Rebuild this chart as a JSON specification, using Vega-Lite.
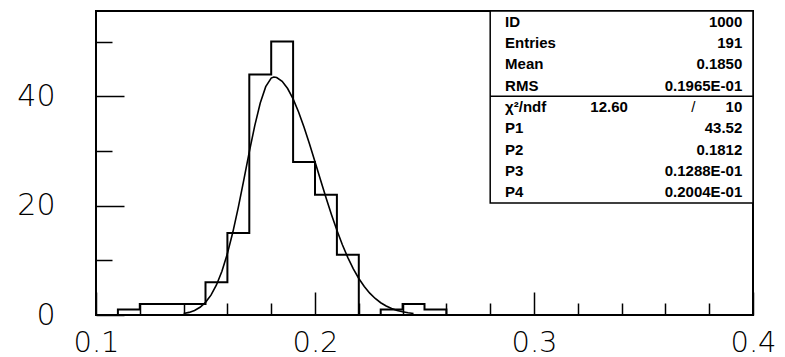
{
  "$schema": "https://vega.github.io/schema/vega-lite/v6.json",
  "width": 657,
  "height": 304,
  "autosize": "none",
  "padding": {"left": 96, "top": 11, "right": 32, "bottom": 42},
  "background": "white",
  "config": {"view": {"stroke": "black", "strokeWidth": 2}, "font": "DejaVu Sans"},
  "datasets": {
    "hist": [
      {"edge": 0.10, "count": 0}, {"edge": 0.11, "count": 1}, {"edge": 0.12, "count": 2},
      {"edge": 0.13, "count": 2}, {"edge": 0.14, "count": 2}, {"edge": 0.15, "count": 6},
      {"edge": 0.16, "count": 15}, {"edge": 0.17, "count": 44}, {"edge": 0.18, "count": 50},
      {"edge": 0.19, "count": 28}, {"edge": 0.20, "count": 22}, {"edge": 0.21, "count": 11},
      {"edge": 0.22, "count": 0}, {"edge": 0.23, "count": 1}, {"edge": 0.24, "count": 2},
      {"edge": 0.25, "count": 1}, {"edge": 0.26, "count": 0}
    ],
    "fit": [
      {"x": 0.1400, "f": 0.261}, {"x": 0.1425, "f": 0.477}, {"x": 0.1450, "f": 0.838},
      {"x": 0.1475, "f": 1.419}, {"x": 0.1500, "f": 2.315}, {"x": 0.1525, "f": 3.635},
      {"x": 0.1550, "f": 5.497}, {"x": 0.1575, "f": 8.006}, {"x": 0.1600, "f": 11.230},
      {"x": 0.1625, "f": 15.170}, {"x": 0.1650, "f": 19.731}, {"x": 0.1675, "f": 24.717},
      {"x": 0.1700, "f": 29.819}, {"x": 0.1725, "f": 34.643}, {"x": 0.1750, "f": 38.758},
      {"x": 0.1775, "f": 41.761}, {"x": 0.1800, "f": 43.332}, {"x": 0.1812, "f": 43.520},
      {"x": 0.1825, "f": 43.428}, {"x": 0.1850, "f": 42.745}, {"x": 0.1875, "f": 41.422},
      {"x": 0.1900, "f": 39.520}, {"x": 0.1925, "f": 37.123}, {"x": 0.1950, "f": 34.333},
      {"x": 0.1975, "f": 31.264}, {"x": 0.2000, "f": 28.028}, {"x": 0.2025, "f": 24.739},
      {"x": 0.2050, "f": 21.499}, {"x": 0.2075, "f": 18.394}, {"x": 0.2100, "f": 15.496},
      {"x": 0.2125, "f": 12.852}, {"x": 0.2150, "f": 10.495}, {"x": 0.2175, "f": 8.437},
      {"x": 0.2200, "f": 6.679}, {"x": 0.2225, "f": 5.205}, {"x": 0.2250, "f": 3.993},
      {"x": 0.2275, "f": 3.017}, {"x": 0.2300, "f": 2.243}, {"x": 0.2325, "f": 1.643},
      {"x": 0.2350, "f": 1.185}, {"x": 0.2375, "f": 0.841}, {"x": 0.2400, "f": 0.588},
      {"x": 0.2425, "f": 0.404}, {"x": 0.2450, "f": 0.274}
    ],
    "stats": [
      {"row": 0, "key": "ID", "val": "1000"},
      {"row": 1, "key": "Entries", "val": "191"},
      {"row": 2, "key": "Mean", "val": "0.1850"},
      {"row": 3, "key": "RMS", "val": "0.1965E-01"},
      {"row": 4, "key": "χ²/ndf", "val": "10", "mid": "12.60", "slash": "/"},
      {"row": 5, "key": "P1", "val": "43.52"},
      {"row": 6, "key": "P2", "val": "0.1812"},
      {"row": 7, "key": "P3", "val": "0.1288E-01"},
      {"row": 8, "key": "P4", "val": "0.2004E-01"}
    ]
  },
  "layer": [
    {
      "layer": [
        {
          "data": {"name": "hist"},
          "mark": {"type": "line", "interpolate": "step-after", "color": "black", "strokeWidth": 2},
          "encoding": {
            "x": {
              "field": "edge", "type": "quantitative",
              "scale": {"domain": [0.1, 0.4], "nice": false, "zero": false},
              "axis": {
                "values": [0.1, 0.12, 0.14, 0.16, 0.18, 0.2, 0.22, 0.24, 0.26, 0.28, 0.3, 0.32, 0.34, 0.36, 0.38, 0.4],
                "tickSize": {"condition": {"test": "abs(datum.value*10-round(datum.value*10))<0.001", "value": -23}, "value": -12},
                "labelExpr": "abs(datum.value*10-round(datum.value*10))<0.001 ? format(datum.value, '.1f') : ''",
                "labelPadding": 36,
                "labelFontSize": 29,
                "labelFont": "DejaVu Sans",
                "labelFontWeight": 200,
                "labelColor": "black",
                "tickColor": "black",
                "tickWidth": 1.5,
                "domain": false,
                "grid": false,
                "title": null,
                "labelFlush": false,
                "labelOverlap": false,
                "labelBound": false
              }
            },
            "y": {
              "field": "count", "type": "quantitative",
              "scale": {"domain": [0, 55.6], "nice": false, "zero": false},
              "axis": {
                "values": [0, 5, 10, 15, 20, 25, 30, 35, 40, 45, 50, 55],
                "tickSize": {"condition": {"test": "datum.value % 20 == 0", "value": -28}, "value": -16},
                "labelExpr": "datum.value % 20 == 0 ? datum.label : ''",
                "labelPadding": 69,
                "labelFontSize": 30,
                "labelFont": "DejaVu Sans",
                "labelFontWeight": 200,
                "labelColor": "black",
                "tickColor": "black",
                "tickWidth": 1.5,
                "domain": false,
                "grid": false,
                "title": null,
                "labelFlush": false,
                "labelOverlap": false,
                "labelBound": false
              }
            }
          }
        },
        {
          "data": {"name": "fit"},
          "mark": {"type": "line", "color": "black", "strokeWidth": 1.6},
          "encoding": {
            "x": {"field": "x", "type": "quantitative"},
            "y": {"field": "f", "type": "quantitative"}
          }
        }
      ]
    },
    {
      "data": {"name": "stats"},
      "encoding": {
        "y": {"field": "row", "type": "quantitative", "scale": {"domain": [-0.5, 13.75], "reverse": true, "nice": false, "zero": false}, "axis": null}
      },
      "layer": [
        {
          "transform": [{"filter": "datum.row == 0"}],
          "mark": {"type": "rect", "fill": "white", "stroke": "black", "strokeWidth": 1.5},
          "encoding": {
            "x": {"datum": 0.28, "type": "quantitative"},
            "x2": {"datum": 0.4},
            "y": {"datum": -0.5, "type": "quantitative"},
            "y2": {"datum": 8.5}
          }
        },
        {
          "transform": [{"filter": "datum.row == 0"}],
          "mark": {"type": "rule", "color": "black", "strokeWidth": 1.5},
          "encoding": {
            "x": {"datum": 0.28, "type": "quantitative"},
            "x2": {"datum": 0.4},
            "y": {"datum": 3.5, "type": "quantitative"}
          }
        },
        {
          "mark": {"type": "text", "align": "left", "baseline": "middle", "fontSize": 15, "font": "Liberation Sans", "fontWeight": "bold", "color": "black"},
          "encoding": {"x": {"datum": 0.2868, "type": "quantitative"}, "text": {"field": "key"}}
        },
        {
          "mark": {"type": "text", "align": "right", "baseline": "middle", "fontSize": 15, "font": "Liberation Sans", "fontWeight": "bold", "color": "black"},
          "encoding": {"x": {"datum": 0.3951, "type": "quantitative"}, "text": {"field": "val"}}
        },
        {
          "transform": [{"filter": "isValid(datum.mid)"}],
          "mark": {"type": "text", "align": "left", "baseline": "middle", "fontSize": 15, "font": "Liberation Sans", "fontWeight": "bold", "color": "black"},
          "encoding": {"x": {"datum": 0.3257, "type": "quantitative"}, "text": {"field": "mid"}}
        },
        {
          "transform": [{"filter": "isValid(datum.slash)"}],
          "mark": {"type": "text", "align": "center", "baseline": "middle", "fontSize": 15, "font": "Liberation Sans", "fontWeight": "normal", "color": "black"},
          "encoding": {"x": {"datum": 0.3727, "type": "quantitative"}, "text": {"field": "slash"}}
        }
      ]
    }
  ],
  "resolve": {"scale": {"y": "independent"}}
}
